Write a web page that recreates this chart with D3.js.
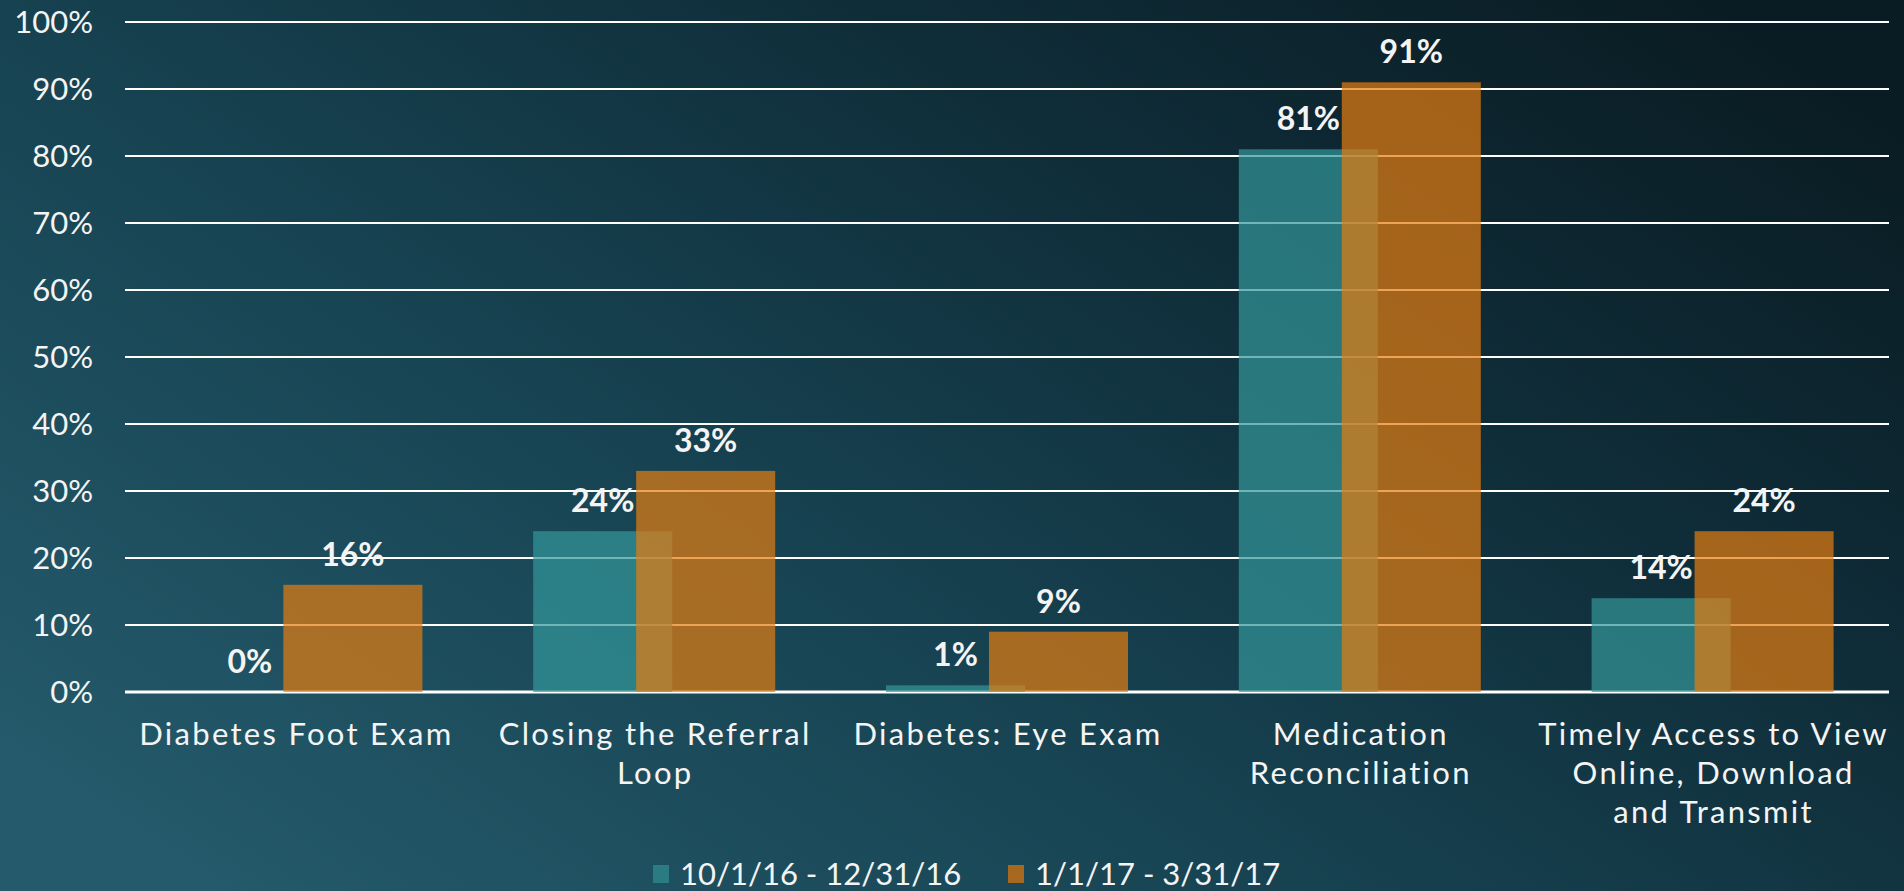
<!DOCTYPE html>
<html>
<head>
<meta charset="utf-8">
<script src="https://cdn.jsdelivr.net/npm/d3@7"></script>
<style>
  html, body { margin: 0; padding: 0; background: #133a48; overflow: hidden; }
  svg { display: block; }
  text { font-family: "Lato", "DejaVu Sans", sans-serif; fill: #f4f4f4; }
  text.cat { letter-spacing: 2.3px; }
</style>
</head>
<body>
<svg id="chart" width="1904" height="891"></svg>
<script>
const categories = [
  "Diabetes Foot Exam",
  "Closing the Referral Loop",
  "Diabetes: Eye Exam",
  "Medication Reconciliation",
  "Timely Access to View Online, Download and Transmit"
];
const categoryLines = [
  ["Diabetes Foot Exam"],
  ["Closing the Referral", "Loop"],
  ["Diabetes: Eye Exam"],
  ["Medication", "Reconciliation"],
  ["Timely Access to View", "Online, Download", "and Transmit"]
];
const seriesNames = ["10/1/16 - 12/31/16", "1/1/17 - 3/31/17"];
const q4_2016 = [0, 24, 1, 81, 14];
const q1_2017 = [16, 33, 9, 91, 24];
const yTicks = [0, 10, 20, 30, 40, 50, 60, 70, 80, 90, 100];
const yTickLabels = ["0%", "10%", "20%", "30%", "40%", "50%", "60%", "70%", "80%", "90%", "100%"];

const W = 1904, H = 891;
const svg = d3.select("#chart");

// background
const defs = svg.append("defs");
const bg = defs.append("linearGradient").attr("id", "bg")
  .attr("x1", "0").attr("y1", "0.85").attr("x2", "1").attr("y2", "0.15");
bg.append("stop").attr("offset", "0").attr("stop-color", "#245a6b");
bg.append("stop").attr("offset", "0.35").attr("stop-color", "#184554");
bg.append("stop").attr("offset", "0.7").attr("stop-color", "#0f2d39");
bg.append("stop").attr("offset", "1").attr("stop-color", "#0a1c23");
svg.append("rect").attr("width", W).attr("height", H).attr("fill", "url(#bg)");

const plotLeft = 125, plotRight = 1889, plotTop = 22, plotBottom = 692;

const x = d3.scaleBand().domain(categories).range([plotLeft, plotRight])
  .paddingInner(0.314).paddingOuter(0.157);
const y = d3.scaleLinear().domain([0, 100]).range([plotBottom, plotTop]);
const barW = x.bandwidth() * 0.5745;
const off = d3.scaleOrdinal().domain(seriesNames).range([0, x.bandwidth() - barW]);

const colors = d3.scaleOrdinal().domain(seriesNames).range(["#33979a", "#e57d10"]);
const legendColors = ["#2a7c82", "#a6691f"];

// gridlines
svg.append("g").selectAll("line").data(yTicks).join("line")
  .attr("x1", plotLeft).attr("x2", plotRight)
  .attr("y1", d => y(d)).attr("y2", d => y(d))
  .attr("stroke", "#ffffff").attr("stroke-width", d => d === 0 ? 3 : 2);

// y tick labels
svg.append("g").selectAll("text").data(yTicks).join("text")
  .attr("x", 93).attr("y", d => y(d) + 11)
  .attr("text-anchor", "end").attr("font-size", 31)
  .text((d, i) => yTickLabels[i]);

const series = [q4_2016, q1_2017];
const bars = svg.append("g");
categories.forEach((c, ci) => {
  series.forEach((vals, si) => {
    const name = seriesNames[si];
    bars.append("rect")
      .attr("x", x(c) + off(name))
      .attr("width", barW)
      .attr("y", y(vals[ci]))
      .attr("height", y(0) - y(vals[ci]))
      .attr("fill", colors(name))
      .attr("fill-opacity", 0.7);
  });
});

// data labels
const labels = svg.append("g");
categories.forEach((c, ci) => {
  series.forEach((vals, si) => {
    const name = seriesNames[si];
    labels.append("text")
      .attr("x", x(c) + off(name) + barW / 2)
      .attr("y", y(vals[ci]) - 19)
      .attr("text-anchor", "middle")
      .attr("font-size", 32).attr("font-weight", "bold")
      .text(vals[ci] + "%");
  });
});

// category labels
const cat = svg.append("g");
categories.forEach((c, ci) => {
  const cx = x(c) + x.bandwidth() / 2 + 1 - (ci === 0 ? 6 : 0);
  const t = cat.append("text").attr("class", "cat")
    .attr("x", cx)
    .attr("y", 745)
    .attr("text-anchor", "middle").attr("font-size", 31);
  categoryLines[ci].forEach((line, li) => {
    t.append("tspan").attr("x", cx)
      .attr("dy", li === 0 ? 0 : 39).text(line);
  });
});

// legend
const legend = svg.append("g");
const legendX = [653, 1008];
seriesNames.forEach((n, i) => {
  legend.append("rect").attr("x", legendX[i]).attr("y", 865)
    .attr("width", 16).attr("height", 18).attr("fill", legendColors[i]);
  legend.append("text").attr("x", legendX[i] + 27).attr("y", 885)
    .attr("font-size", 31).text(n);
});
</script>
</body>
</html>
